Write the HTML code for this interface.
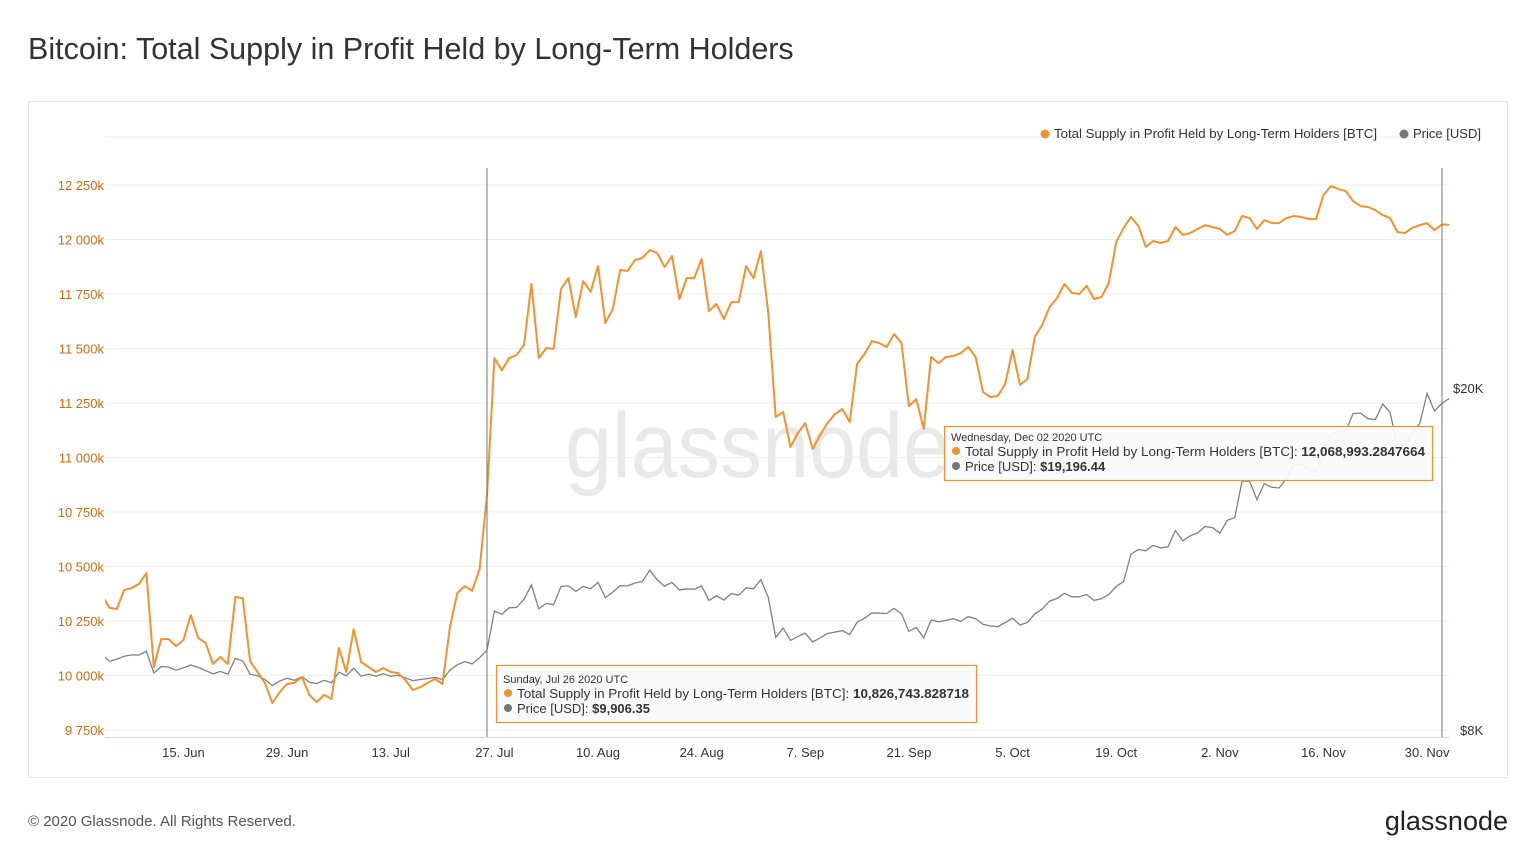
<!DOCTYPE html>
<html><head><meta charset="utf-8"><style>
body{margin:0;background:#fff;font-family:"Liberation Sans",sans-serif;}
svg text{font-family:"Liberation Sans",sans-serif;}
</style></head><body>
<svg id="c" width="1536" height="860" xmlns="http://www.w3.org/2000/svg">
<text x="28" y="59" font-size="30.5" fill="#333">Bitcoin: Total Supply in Profit Held by Long-Term Holders</text>
<rect x="28.5" y="101.5" width="1479" height="676" fill="#fff" stroke="#e6e6e6"/>
<text x="565" y="477" font-size="92" fill="#e9e9e9" textLength="385" lengthAdjust="spacingAndGlyphs">glassnode</text>
<g id="grid"></g>
<g id="yl"></g>
<g id="xl"></g>
<text x="1453" y="393" font-size="13" fill="#333">$20K</text>
<text x="1460" y="735" font-size="13" fill="#333">$8K</text>
<g id="series"></g>
<line x1="487" y1="168" x2="487" y2="737" stroke="#777" stroke-width="1"/>
<line x1="1442" y1="168" x2="1442" y2="737" stroke="#777" stroke-width="1"/>
<g>
<circle cx="1045" cy="134" r="4.5" fill="#f0932e"/>
<text x="1054" y="138" font-size="13" fill="#333" textLength="323" lengthAdjust="spacingAndGlyphs">Total Supply in Profit Held by Long-Term Holders [BTC]</text>
<circle cx="1404" cy="134" r="4.5" fill="#777"/>
<text x="1413" y="138" font-size="13" fill="#333" textLength="68" lengthAdjust="spacingAndGlyphs">Price [USD]</text>
</g>
<g>
<rect x="496.5" y="665.5" width="480" height="57" fill="#fafafa" fill-opacity="0.93" stroke="#f0932e" stroke-width="1.2"/>
<text x="503" y="683" font-size="11" fill="#333">Sunday, Jul 26 2020 UTC</text>
<circle cx="508" cy="693" r="4" fill="#f0932e"/>
<text x="517" y="698" font-size="13" fill="#333" textLength="452" lengthAdjust="spacingAndGlyphs">Total Supply in Profit Held by Long-Term Holders [BTC]: <tspan font-weight="bold">10,826,743.828718</tspan></text>
<circle cx="508" cy="708" r="4" fill="#777"/>
<text x="517" y="713" font-size="13" fill="#333">Price [USD]: <tspan font-weight="bold">$9,906.35</tspan></text>
</g>
<g>
<rect x="944.5" y="426.5" width="488" height="54" fill="#fafafa" fill-opacity="0.93" stroke="#f0932e" stroke-width="1.2"/>
<text x="951" y="441" font-size="11" fill="#333">Wednesday, Dec 02 2020 UTC</text>
<circle cx="956" cy="451" r="4" fill="#f0932e"/>
<text x="965" y="456" font-size="13" fill="#333" textLength="460" lengthAdjust="spacingAndGlyphs">Total Supply in Profit Held by Long-Term Holders [BTC]: <tspan font-weight="bold">12,068,993.2847664</tspan></text>
<circle cx="956" cy="466" r="4" fill="#777"/>
<text x="965" y="471" font-size="13" fill="#333">Price [USD]: <tspan font-weight="bold">$19,196.44</tspan></text>
</g>
<text x="28" y="826" font-size="15" fill="#555">© 2020 Glassnode. All Rights Reserved.</text>
<text x="1508" y="830" font-size="27" fill="#222" text-anchor="end">glassnode</text>
</svg>
<script>
const yTicks=[9750,10000,10250,10500,10750,11000,11250,11500,11750,12000,12250];
const yTickLabels=["9 750k","10 000k","10 250k","10 500k","10 750k","11 000k","11 250k","11 500k","11 750k","12 000k","12 250k"];
const xTickDays=[11,25,39,53,67,81,95,109,123,137,151,165,179];
const xTickLabels=["15. Jun","29. Jun","13. Jul","27. Jul","10. Aug","24. Aug","7. Sep","21. Sep","5. Oct","19. Oct","2. Nov","16. Nov","30. Nov"];
const supply=[10369,10310,10305,10392,10401,10420,10470,10039,10167,10167,10135,10163,10277,10172,10149,10053,10085,10053,10360,10355,10066,10016,9966,9874,9924,9961,9966,9993,9911,9878,9911,9892,10126,10016,10213,10062,10039,10016,10034,10016,10011,9979,9933,9947,9966,9984,9961,10222,10378,10410,10388,10488,10827,11456,11400,11456,11470,11516,11796,11456,11502,11498,11773,11823,11644,11809,11759,11878,11617,11681,11860,11856,11906,11915,11952,11938,11874,11924,11727,11823,11823,11910,11672,11704,11635,11713,11713,11878,11823,11947,11663,11186,11209,11048,11112,11158,11039,11103,11158,11199,11222,11163,11429,11475,11534,11525,11507,11566,11525,11236,11268,11131,11461,11433,11461,11465,11479,11507,11461,11300,11277,11282,11337,11493,11333,11360,11553,11608,11690,11731,11796,11755,11750,11787,11727,11736,11800,11988,12053,12103,12062,11966,11993,11984,11993,12057,12021,12030,12048,12066,12057,12048,12021,12039,12108,12098,12048,12089,12075,12075,12098,12108,12103,12094,12094,12204,12245,12232,12222,12176,12153,12149,12135,12112,12098,12034,12030,12053,12066,12075,12043,12069,12068];
const price=[9790,9620,9670,9750,9780,9780,9880,9320,9480,9470,9390,9450,9520,9460,9380,9300,9360,9290,9690,9630,9290,9250,9160,9010,9120,9190,9140,9230,9090,9060,9140,9080,9340,9250,9440,9240,9290,9240,9300,9240,9260,9200,9130,9160,9180,9210,9160,9390,9530,9610,9550,9710,9906,11000,10910,11100,11110,11350,11800,11070,11230,11190,11750,11770,11600,11750,11680,11880,11400,11580,11780,11770,11860,11910,12280,11960,11760,11880,11640,11680,11660,11770,11320,11460,11330,11530,11480,11710,11680,11970,11410,10250,10510,10170,10280,10370,10130,10240,10360,10400,10440,10330,10680,10790,10950,10940,10930,11080,10920,10420,10530,10240,10740,10690,10730,10780,10700,10840,10780,10620,10570,10550,10670,10790,10600,10670,10920,11060,11300,11380,11540,11430,11430,11500,11320,11370,11500,11750,11910,12820,12970,12930,13120,13030,13070,13650,13280,13460,13560,13800,13760,13550,14030,14130,15590,15580,14830,15480,15330,15300,15700,16280,16320,16070,15960,16720,17660,17800,17820,18680,18700,18420,18370,19160,18720,17150,17140,17720,18180,19700,18800,19196,19450];
const NS="http://www.w3.org/2000/svg";
const X0=102,DX=7.403,PL=105,PR=1449;
const xs=d=>X0+d*DX;
const yL=v=>730-(v-9750)/250*54.5;
const yR=p=>730-Math.log(p/8000)/Math.log(2.5)*342;
function mk(t,a,p){const e=document.createElementNS(NS,t);for(const k in a)e.setAttribute(k,a[k]);p.appendChild(e);return e;}
const grid=document.getElementById('grid'),yl=document.getElementById('yl'),xl=document.getElementById('xl'),ser=document.getElementById('series');
[137].concat(yTicks.map(yL)).forEach(y=>{
 const l=mk('line',{x1:PL,x2:PR,y1:y,y2:y,stroke:'#eeeeee','stroke-width':1},grid);
 
 
});
yTicks.forEach((v,i)=>{
 const t=mk('text',{x:104,y:yL(v)+5,'font-size':13,fill:'#c76e12','text-anchor':'end'},yl);
 t.textContent=yTickLabels[i];
 
 
});
mk('line',{x1:PL,x2:PR,y1:737.5,y2:737.5,stroke:'#ccd6eb'},xl);
xTickDays.forEach((d,i)=>{
 const t=mk('text',{x:xs(d),y:757,'font-size':13,fill:'#333','text-anchor':'middle'},xl);
 t.textContent=xTickLabels[i];
 
 
});
const clip=mk('clipPath',{id:'pc'},ser);mk('rect',{x:PL,y:100,width:PR-PL,height:640},clip);
const pp=price.map((p,i)=>xs(i).toFixed(1)+','+yR(p).toFixed(1)).join(' ');
const gl=mk('polyline',{points:pp,fill:'none',stroke:'#808080','stroke-width':1.3,'clip-path':'url(#pc)'},ser);


const sp=supply.map((v,i)=>xs(i).toFixed(1)+','+yL(v).toFixed(1)).join(' ');
const ol=mk('polyline',{points:sp,fill:'none',stroke:'#f0932e','stroke-width':2,'stroke-linejoin':'round','clip-path':'url(#pc)'},ser);


</script>
</body></html>
